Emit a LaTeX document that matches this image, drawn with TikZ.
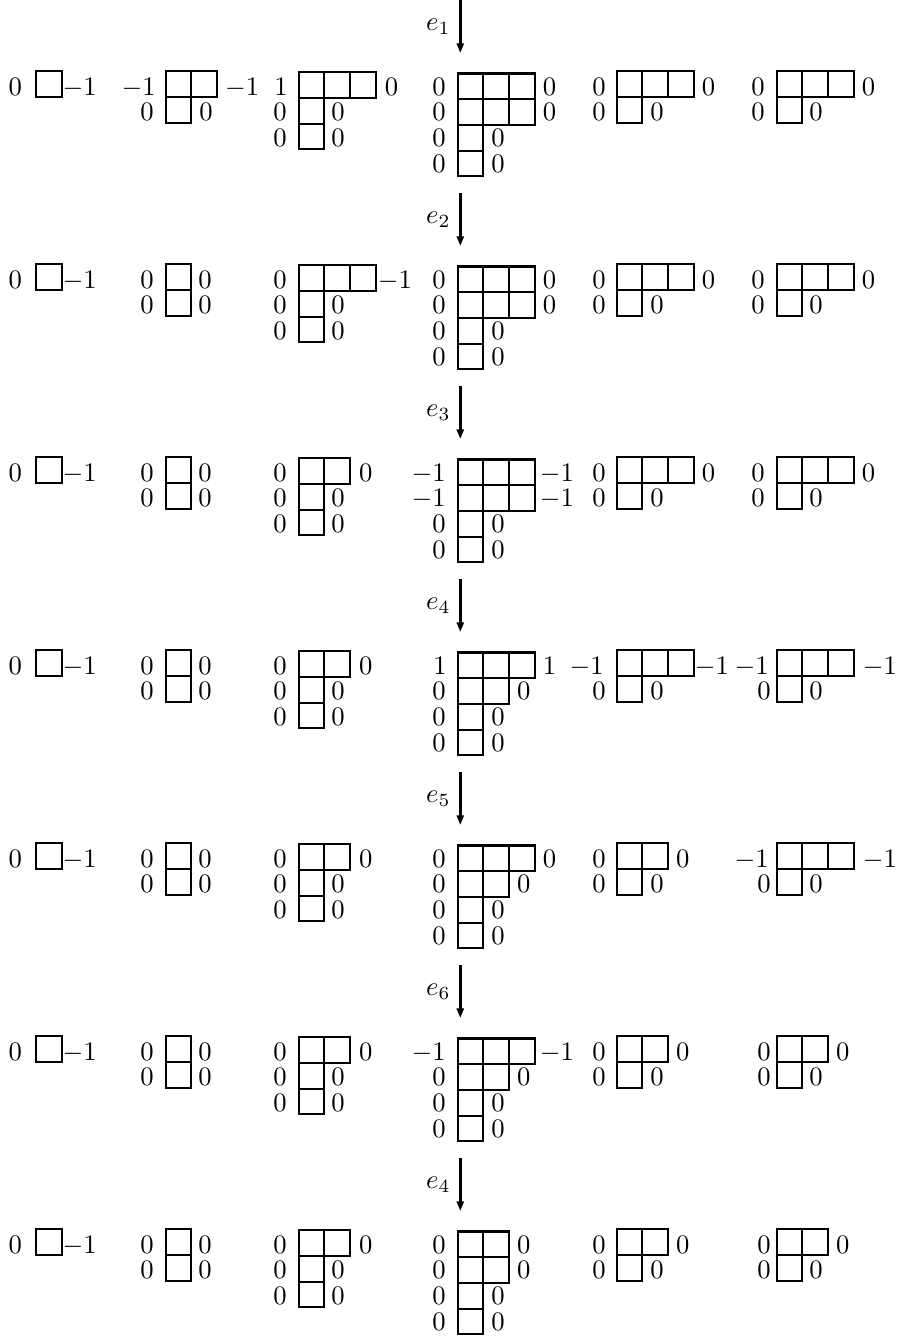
\documentclass[tikz,border=0pt]{standalone}
\usetikzlibrary{arrows.meta}
\tikzset{
  cell/.style={draw=black, line width=0.8pt},
  lab/.style={inner sep=0pt, outer sep=0pt},
  arr/.style={line width=1.1pt, -{Triangle[length=3.6pt,width=2.6pt]}},
  elab/.style={inner sep=0pt, outer sep=0pt, anchor=base east},
}
\def\ydB{25.7}
% #1 name, #2 x of box column, #3 row top (label reference), #4 vertical box offset,
% #5 rows: length/left label/left gap/right label/right gap
\newcommand\yd[5]{%
  \foreach \yL/\yLt/\yLg/\yRt/\yRg [count=\yR] in {#5} {
    \foreach \yC in {1,...,\yL}
      \draw[cell] ({#2+(\yC-1)*\ydB},{#3+#4+(\yR-1)*\ydB}) rectangle ++(\ydB,\ydB);
    \node[lab,anchor=base east] (#1-l\yR) at ({#2-\yLg},{#3+\yR*\ydB-2}) {$\yLt$};
    \node[lab,anchor=base west] (#1-r\yR) at ({#2+\yL*\ydB+\yRg},{#3+\yR*\ydB-2}) {$\yRt$};
  }%
}
\begin{document}
\begin{tikzpicture}[x=0.375pt,y=-0.375pt]
\useasboundingbox (0,0) rectangle (899,1339);

% arrows
\foreach \k/\e in {1/1,2/2,3/3,4/4,5/5,6/6,7/4}{
  \coordinate (s\k) at (460.3,{193*(\k-1)});
  \coordinate (t\k) at (460.3,{193*(\k-1)+53});
  \draw[arr] (s\k) -- (t\k);
  \node[elab] (lab\k) at (450.5,{193*(\k-1)+30.2}) {$e_{\e}$};
}

% row 1
\yd{p1a}{36}{71.3}{0}{1/0/14/-1/1}
\yd{p1b}{165.7}{71.3}{0}{2/-1/10/-1/8, 1/0/12/0/8}
\yd{p1c}{298.7}{71.3}{1}{3/1/11/0/9, 1/0/12/0/7, 1/0/12/0/7}
\yd{p1d}{457.7}{71.3}{2.2}{3/0/12/0/8, 3/0/12/0/8, 1/0/12/0/8, 1/0/12/0/8}
\yd{p1e}{616.7}{71.3}{0}{3/0/11/0/8, 1/0/11/0/8}
\yd{p1f}{776.7}{71.3}{0}{3/0/12/0/8, 1/0/12/0/7}

% row 2
\yd{p2a}{36}{264.3}{0}{1/0/14/-1/1}
\yd{p2b}{165.7}{264.3}{0}{1/0/12/0/7, 1/0/12/0/7}
\yd{p2c}{298.7}{264.3}{1}{3/0/12/-1/2, 1/0/12/0/7, 1/0/12/0/7}
\yd{p2d}{457.7}{264.3}{2.2}{3/0/12/0/8, 3/0/12/0/8, 1/0/12/0/8, 1/0/12/0/8}
\yd{p2e}{616.7}{264.3}{0}{3/0/11/0/8, 1/0/11/0/8}
\yd{p2f}{776.7}{264.3}{0}{3/0/12/0/8, 1/0/12/0/7}

% row 3
\yd{p3a}{36}{457.3}{0}{1/0/14/-1/1}
\yd{p3b}{165.7}{457.3}{0}{1/0/12/0/7, 1/0/12/0/7}
\yd{p3c}{298.7}{457.3}{1}{2/0/12/0/9, 1/0/12/0/7, 1/0/12/0/7}
\yd{p3d}{457.7}{457.3}{2.2}{3/-1/12/-1/5, 3/-1/12/-1/5, 1/0/12/0/8, 1/0/12/0/8}
\yd{p3e}{616.7}{457.3}{0}{3/0/11/0/8, 1/0/11/0/8}
\yd{p3f}{776.7}{457.3}{0}{3/0/12/0/8, 1/0/12/0/7}

% row 4
\yd{p4a}{36}{650.3}{0}{1/0/14/-1/1}
\yd{p4b}{165.7}{650.3}{0}{1/0/12/0/7, 1/0/12/0/7}
\yd{p4c}{298.7}{650.3}{1}{2/0/12/0/9, 1/0/12/0/7, 1/0/12/0/7}
\yd{p4d}{457.7}{650.3}{2.2}{3/1/11/1/8, 2/0/12/0/8, 1/0/12/0/8, 1/0/12/0/8}
\yd{p4e}{616.7}{650.3}{0}{3/-1/13/-1/1, 1/0/11/0/8}
\yd{p4f}{776.7}{650.3}{0}{3/-1/8/-1/9, 1/0/6/0/7}

% row 5
\yd{p5a}{36}{843.3}{0}{1/0/14/-1/1}
\yd{p5b}{165.7}{843.3}{0}{1/0/12/0/7, 1/0/12/0/7}
\yd{p5c}{298.7}{843.3}{1}{2/0/12/0/9, 1/0/12/0/7, 1/0/12/0/7}
\yd{p5d}{457.7}{843.3}{2.2}{3/0/12/0/8, 2/0/12/0/8, 1/0/12/0/8, 1/0/12/0/8}
\yd{p5e}{616.7}{843.3}{0}{2/0/11/0/8, 1/0/11/0/8}
\yd{p5f}{776.7}{843.3}{0}{3/-1/8/-1/9, 1/0/6/0/7}

% row 6
\yd{p6a}{36}{1036.3}{0}{1/0/14/-1/1}
\yd{p6b}{165.7}{1036.3}{0}{1/0/12/0/7, 1/0/12/0/7}
\yd{p6c}{298.7}{1036.3}{1}{2/0/12/0/9, 1/0/12/0/7, 1/0/12/0/7}
\yd{p6d}{457.7}{1036.3}{2.2}{3/-1/12/-1/5, 2/0/12/0/8, 1/0/12/0/8, 1/0/12/0/8}
\yd{p6e}{616.7}{1036.3}{0}{2/0/11/0/8, 1/0/11/0/8}
\yd{p6f}{776.7}{1036.3}{0}{2/0/6/0/8, 1/0/6/0/7}

% row 7
\yd{p7a}{36}{1229.3}{0}{1/0/14/-1/1}
\yd{p7b}{165.7}{1229.3}{0}{1/0/12/0/7, 1/0/12/0/7}
\yd{p7c}{298.7}{1229.3}{1}{2/0/12/0/9, 1/0/12/0/7, 1/0/12/0/7}
\yd{p7d}{457.7}{1229.3}{2.2}{2/0/12/0/8, 2/0/12/0/8, 1/0/12/0/8, 1/0/12/0/8}
\yd{p7e}{616.7}{1229.3}{0}{2/0/11/0/8, 1/0/11/0/8}
\yd{p7f}{776.7}{1229.3}{0}{2/0/6/0/8, 1/0/6/0/7}
\end{tikzpicture}
\end{document}
